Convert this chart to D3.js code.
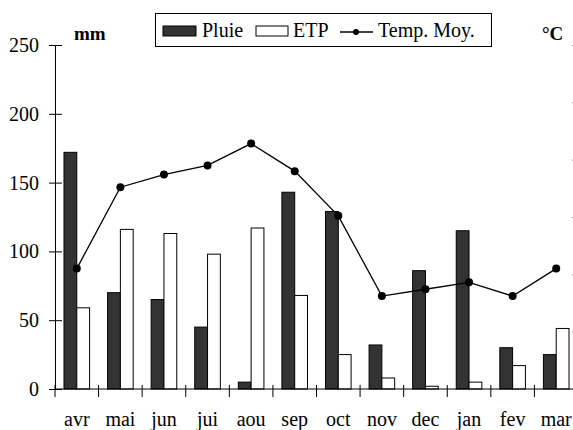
<!DOCTYPE html>
<html><head><meta charset="utf-8">
<script src="https://cdn.jsdelivr.net/npm/d3@7"></script>
</head>
<body style="margin:0;background:#fff">
<svg id="c" width="573" height="430"></svg>
<script>
const months = ["avr","mai","jun","jui","aou","sep","oct","nov","dec","jan","fev","mar"];
const pluie  = [172, 70, 65, 45, 5, 143, 129, 32, 86, 115, 30, 25];
const etp    = [59, 116, 113, 98, 117, 68, 25, 8, 2, 5, 17, 44];
const temp   = [10.5, 17.6, 18.7, 19.5, 21.4, 19.0, 15.1, 8.1, 8.7, 9.3, 8.1, 10.5];
const mmTicks = [0, 50, 100, 150, 200, 250];
const cTicks  = [0, 5, 10, 15, 20, 25, 30];

const FONT = '"Liberation Serif"';
const svg = d3.select("#c");
const L = 55, R = 578, T = 45, B = 389;
const x = d3.scaleBand().domain(months).range([L, R]).padding(0);
const y = d3.scaleLinear().domain([0, 250]).range([B, T]);
const y2 = d3.scaleLinear().domain([0, 30]).range([B, T]);
const bw = 12.8;

// bars
const g = svg.append("g");
g.selectAll("rect.p").data(months).enter().append("rect")
  .attr("x", (d,i) => x(d) + x.bandwidth()/2 - bw)
  .attr("y", (d,i) => y(pluie[i]))
  .attr("width", bw).attr("height", (d,i) => B - y(pluie[i]))
  .attr("fill", "#333333").attr("stroke", "#000").attr("stroke-width", 1);
g.selectAll("rect.e").data(months).enter().append("rect")
  .attr("x", (d,i) => x(d) + x.bandwidth()/2)
  .attr("y", (d,i) => y(etp[i]))
  .attr("width", bw).attr("height", (d,i) => B - y(etp[i]))
  .attr("fill", "#fff").attr("stroke", "#000").attr("stroke-width", 1);

// left axis
const ya = d3.axisLeft(y).tickValues(mmTicks).tickSizeInner(6).tickSizeOuter(0).tickPadding(10);
const yg = svg.append("g").attr("transform", `translate(${L},0)`).call(ya);
yg.select(".domain").attr("stroke", "#000");
yg.selectAll(".tick line").attr("x2", -6).attr("x1", 7).attr("stroke", "#000");
yg.selectAll(".tick text").attr("fill", "#000").attr("x", -16)
  .style("font-family", FONT).style("font-size", "20px");

// right axis
const y2a = d3.axisRight(y2).tickValues(cTicks).tickSizeInner(6).tickSizeOuter(0).tickFormat(() => "");
const y2g = svg.append("g").attr("transform", `translate(${R},0)`).call(y2a);
y2g.selectAll(".tick line").attr("x1", -6).attr("x2", 6).attr("stroke", "#999");
y2g.select(".domain").attr("stroke", "#000");

// x axis
svg.append("line").attr("x1", L).attr("x2", R).attr("y1", B).attr("y2", B).attr("stroke", "#000");
const bounds = months.map(m => x(m)).concat([R]);
svg.selectAll("line.xt").data(bounds).enter().append("line")
  .attr("x1", d => d).attr("x2", d => d).attr("y1", B - 4).attr("y2", B + 8)
  .attr("stroke", "#000");
svg.selectAll("text.xl").data(months).enter().append("text")
  .attr("x", d => x(d) + x.bandwidth()/2).attr("y", 426)
  .attr("text-anchor", "middle").style("font-family", FONT).style("font-size", "20px").text(d => d);

// line
const line = d3.line().x((d,i) => x(months[i]) + x.bandwidth()/2).y(d => y2(d));
svg.append("path").datum(temp).attr("d", line).attr("fill", "none")
  .attr("stroke", "#000").attr("stroke-width", 1.3);
svg.selectAll("circle.t").data(temp).enter().append("circle")
  .attr("cx", (d,i) => x(months[i]) + x.bandwidth()/2).attr("cy", d => y2(d))
  .attr("r", 4).attr("fill", "#000");

// unit labels
svg.append("text").attr("x", 74).attr("y", 40).style("font-family", FONT).style("font-size", "19px").style("font-weight", "bold").text("mm");
svg.append("text").attr("x", 542).attr("y", 40).style("font-family", FONT).style("font-size", "19px").style("font-weight", "bold").text("°C");

// legend
const lg = svg.append("g");
lg.append("rect").attr("x", 155.5).attr("y", 13.5).attr("width", 336).attr("height", 33)
  .attr("fill", "#fff").attr("stroke", "#000").attr("stroke-width", 1);
lg.append("rect").attr("x", 163).attr("y", 26).attr("width", 33).attr("height", 10)
  .attr("fill", "#333333").attr("stroke", "#000");
lg.append("text").attr("x", 202).attr("y", 37).style("font-family", FONT).style("font-size", "20px").text("Pluie");
lg.append("rect").attr("x", 256).attr("y", 26).attr("width", 32).attr("height", 10)
  .attr("fill", "#fff").attr("stroke", "#000");
lg.append("text").attr("x", 293).attr("y", 37).style("font-family", FONT).style("font-size", "20px").text("ETP");
lg.append("line").attr("x1", 340).attr("x2", 373).attr("y1", 32).attr("y2", 32).attr("stroke", "#000").attr("stroke-width", 1.3);
lg.append("circle").attr("cx", 356).attr("cy", 32).attr("r", 3).attr("fill", "#000");
lg.append("text").attr("x", 378).attr("y", 37).style("font-family", FONT).style("font-size", "20px").text("Temp. Moy.");
</script>
</body></html>
